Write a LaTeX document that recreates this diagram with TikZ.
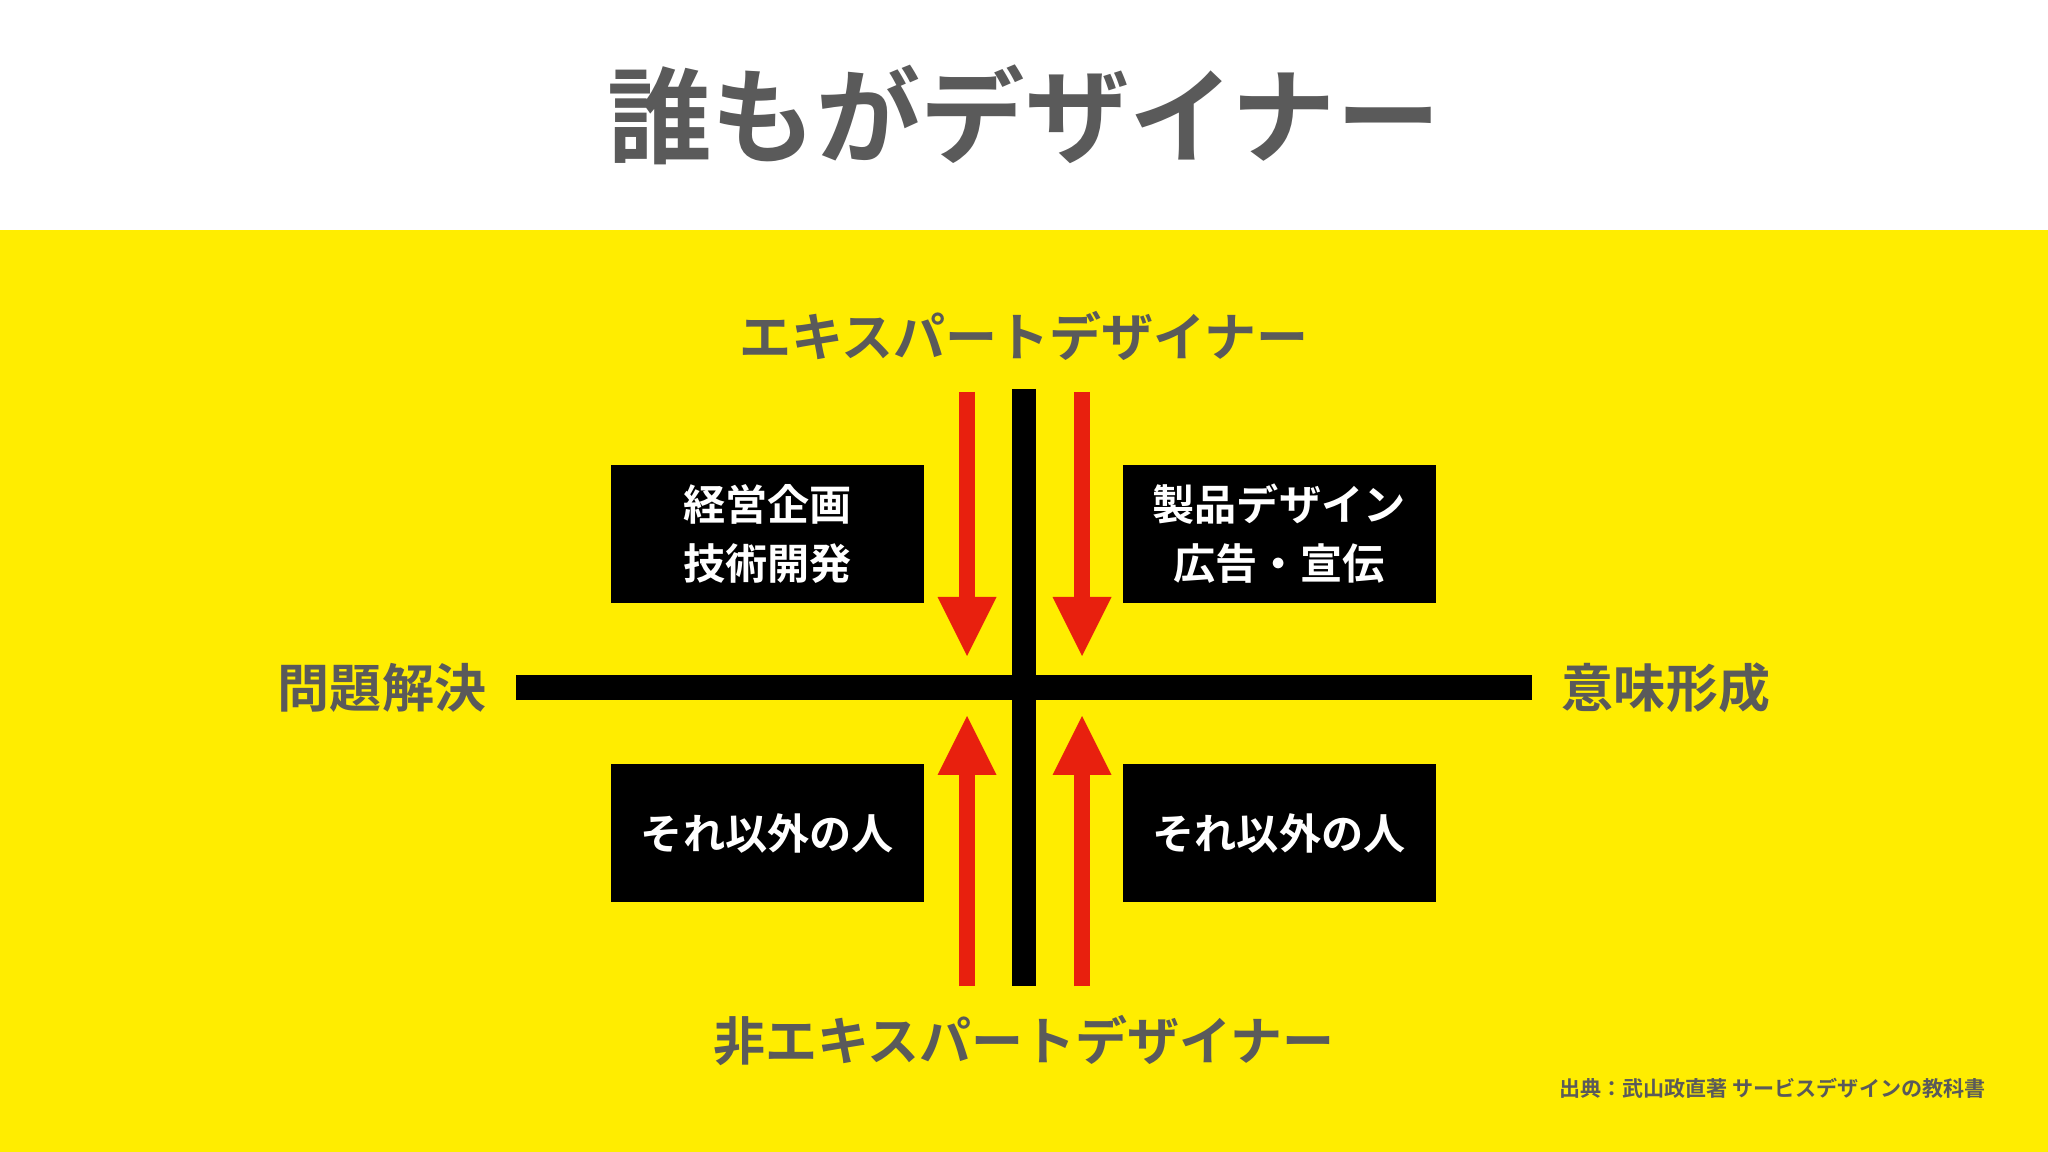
\documentclass[tikz,border=0pt]{standalone}
\usepackage{fontspec}
\setmainfont{Noto Sans CJK JP}[BoldFont={Noto Sans CJK JP Bold}]
\usetikzlibrary{arrows.meta}
\definecolor{textgray}{HTML}{5A5A5A}
\definecolor{bandyellow}{HTML}{FFED00}
\definecolor{arrowred}{HTML}{E8200E}
\tikzset{
  heading/.style={text=textgray,font=\bfseries\fontsize{29.7}{34}\selectfont},
  axislabel/.style={text=textgray,font=\bfseries\fontsize{14.8}{17}\selectfont},
  rolebox/.style={fill=black,text=white,align=center,minimum width=3.13cm,
    minimum height=1.38cm,inner sep=0pt,font=\bfseries\fontsize{12}{16.8}\selectfont},
  flow/.style={draw=arrowred,line width=0.16cm,
    -{Triangle[width=0.59cm,length=0.59cm,line width=0pt]}},
  bar/.style={line width=0.245cm}
}
\begin{document}
\begin{tikzpicture}
    %% Background
    \fill[white] (0,0) rectangle (20.48,-11.52);
    \fill[bandyellow] (0,-2.30) rectangle (20.48,-11.52);
    \useasboundingbox (0,0) rectangle (20.48,-11.52);
    %% Title
    \node[heading] (title) at (10.24,-1.15) {誰もがデザイナー};
    %% Axes
    \draw[bar] (10.24,-3.89) -- (10.24,-9.86);
    \draw[bar] (5.16,-6.875) -- (15.32,-6.875);
    \node[axislabel] (expert) at (10.24,-3.36) {エキスパートデザイナー};
    \node[axislabel] (nonexpert) at (10.24,-10.41) {非エキスパートデザイナー};
    \node[axislabel] (solving) at (3.82,-6.88) {問題解決};
    \node[axislabel] (making) at (16.66,-6.88) {意味形成};
    %% Quadrants
    \node[rolebox] (planning) at (7.675,-5.34) {経営企画\\技術開発};
    \node[rolebox] (product) at (12.79,-5.34) {製品デザイン\\広告・宣伝};
    \node[rolebox] (othersleft) at (7.675,-8.33) {それ以外の人};
    \node[rolebox] (othersright) at (12.79,-8.33) {それ以外の人};
    %% Arrows
    \coordinate (downL) at (9.67,-3.92);
    \coordinate (downLtip) at (9.67,-6.56);
    \coordinate (downR) at (10.82,-3.92);
    \coordinate (downRtip) at (10.82,-6.56);
    \coordinate (upL) at (9.67,-9.86);
    \coordinate (upLtip) at (9.67,-7.16);
    \coordinate (upR) at (10.82,-9.86);
    \coordinate (upRtip) at (10.82,-7.16);
    \draw[flow] (downL) -- (downLtip);
    \draw[flow] (downR) -- (downRtip);
    \draw[flow] (upL) -- (upLtip);
    \draw[flow] (upR) -- (upRtip);
    %% Source
    \node[anchor=east,text=textgray,font=\bfseries\fontsize{6}{7}\selectfont] (source)
      at (19.98,-10.88) {出典：武山政直著 サービスデザインの教科書};
\end{tikzpicture}
\end{document}
